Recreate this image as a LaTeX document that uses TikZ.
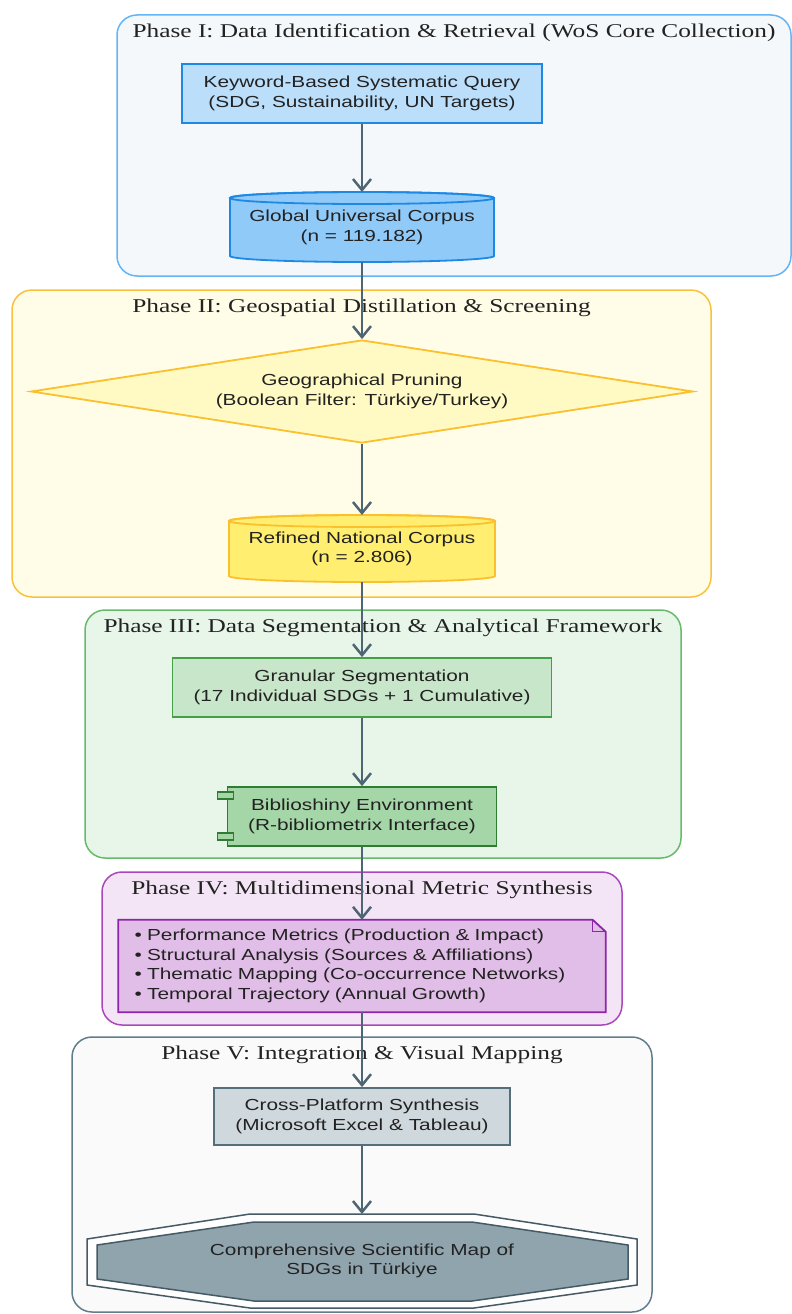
\documentclass[tikz,border=0pt]{standalone}
\usepackage{fontspec}
\setmainfont{Liberation Serif}[FakeStretch=1.3]
\setsansfont{Liberation Sans}[FakeStretch=1.3]
\usetikzlibrary{arrows.meta,shapes.geometric}
\definecolor{txtc}{HTML}{222222}
\definecolor{arr}{HTML}{4E6574}
\definecolor{pIf}{HTML}{F5F8FB}\definecolor{pId}{HTML}{64B5F6}
\definecolor{kwf}{HTML}{BBDEFB}\definecolor{kwd}{HTML}{1E88E5}
\definecolor{cIf}{HTML}{90CAF9}\definecolor{cId}{HTML}{1E88E5}
\definecolor{pIIf}{HTML}{FFFDE7}\definecolor{pIId}{HTML}{F9C23C}
\definecolor{diaf}{HTML}{FFF9C4}\definecolor{diad}{HTML}{FBC02D}
\definecolor{cIIf}{HTML}{FFEE70}\definecolor{cIId}{HTML}{FBC02D}
\definecolor{pIIIf}{HTML}{E8F5E9}\definecolor{pIIId}{HTML}{66BB6A}
\definecolor{grf}{HTML}{C8E6C9}\definecolor{grd}{HTML}{43A047}
\definecolor{bibf}{HTML}{A5D6A7}\definecolor{bibd}{HTML}{2E7D32}
\definecolor{pIVf}{HTML}{F3E5F5}\definecolor{pIVd}{HTML}{AB47BC}
\definecolor{notef}{HTML}{E1BEE7}\definecolor{noted}{HTML}{8E24AA}
\definecolor{pVf}{HTML}{FAFAFA}\definecolor{pVd}{HTML}{607D8B}
\definecolor{crf}{HTML}{CFD8DC}\definecolor{crd}{HTML}{546E7A}
\definecolor{hexf}{HTML}{90A4AE}\definecolor{hexd}{HTML}{455A64}
\pgfdeclarelayer{phaselayer}\pgfdeclarelayer{shapelayer}\pgfdeclarelayer{arrowlayer}
\pgfsetlayers{phaselayer,shapelayer,main,arrowlayer}
\tikzset{
  txt/.style={font=\sffamily\fontsize{16}{19.5}\selectfont, align=center, text=txtc, inner sep=0pt},
  ttl/.style={font=\fontsize{19.5}{22}\selectfont, text=txtc, inner sep=0pt},
  phasebox/.style={rounded corners=20pt, line width=1.5pt},
  flow/.style={draw=arr, line width=2.5pt, -{Straight Barb[length=11pt,width=18pt]}},
  boxn/.style={txt, rectangle, draw, line width=1.8pt},
  shp/.style={line width=1.8pt},
}
\newcommand\mycyl[7]{%
  \pgfmathsetmacro\cx{(#1+#2)/2}\pgfmathsetmacro\rx{(#2-#1)/2}%
  \filldraw[shp,fill=#6,draw=#7] (#1,#3+#5) -- (#1,#4-#5) arc[start angle=180,end angle=0,x radius=\rx,y radius=#5] -- (#2,#3+#5) arc[start angle=0,end angle=-180,x radius=\rx,y radius=#5] -- cycle;
  \draw[shp,draw=#7] (\cx,#3+#5) ellipse[x radius=\rx,y radius=#5];
}
\newcommand\myphase[8]{%
  \begin{pgfonlayer}{phaselayer}
    \filldraw[phasebox,fill=#6,draw=#7] (#2,#3) rectangle (#4,#5);
  \end{pgfonlayer}
  \node[ttl] (#1) at ({(#2+#4)/2},#3+17.5) {#8};
}
\begin{document}
\begin{tikzpicture}[x=1pt,y=-1pt]
\path[use as bounding box] (0,0) rectangle (792,1314);
% phases
\myphase{tI}{117}{15}{791}{276}{pIf}{pId}{Phase I: Data Identification \& Retrieval (WoS Core Collection)}
\myphase{tII}{12}{290}{711}{597}{pIIf}{pIId}{Phase II: Geospatial Distillation \& Screening}
\myphase{tIII}{85}{610}{681}{858}{pIIIf}{pIIId}{Phase III: Data Segmentation \& Analytical Framework}
\myphase{tIV}{102}{872}{622}{1025}{pIVf}{pIVd}{Phase IV: Multidimensional Metric Synthesis}
\myphase{tV}{72}{1037}{652}{1312}{pVf}{pVd}{Phase V: Integration \& Visual Mapping}
% phase I
\node[boxn, fill=kwf, draw=kwd, minimum width=360pt, minimum height=59pt] (kw) at (362,93.5) {Keyword-Based Systematic Query\\(SDG, Sustainability, UN Targets)};
\begin{pgfonlayer}{shapelayer}\mycyl{230}{494}{192}{262}{6}{cIf}{cId}\end{pgfonlayer}
\node[txt, minimum width=264pt, minimum height=70pt] (cI) at (362,227.5) {Global Universal Corpus\\(n = 119.182)};
% phase II
\node[txt, diamond, aspect=6.4, draw=diad, fill=diaf, line width=1.8pt, minimum width=662pt, minimum height=103pt] (dia) at (362,391.5) {Geographical Pruning\\(Boolean Filter: Türkiye/Turkey)};
\begin{pgfonlayer}{shapelayer}\mycyl{229}{495}{515}{582}{6}{cIIf}{cIId}\end{pgfonlayer}
\node[txt, minimum width=266pt, minimum height=67pt] (cII) at (362,549) {Refined National Corpus\\(n = 2.806)};
% phase III
\node[boxn, fill=grf, draw=grd, minimum width=379pt, minimum height=59pt] (gr) at (362,687.5) {Granular Segmentation\\(17 Individual SDGs + 1 Cumulative)};
\node[boxn, fill=bibf, draw=bibd, minimum width=269pt, minimum height=59pt] (bib) at (362,816.5) {Biblioshiny Environment\\(R-bibliometrix Interface)};
\filldraw[shp, line width=1.5pt, fill=bibf, draw=bibd] ([xshift=-9pt,yshift=-6pt]bib.north west) rectangle ([xshift=7pt,yshift=-13pt]bib.north west);
\filldraw[shp, line width=1.5pt, fill=bibf, draw=bibd] ([xshift=-9pt,yshift=7pt]bib.south west) rectangle ([xshift=7pt,yshift=14pt]bib.south west);
% phase IV
\node[txt, align=left, text width=455pt, minimum width=487pt, minimum height=92pt] (note) at (362,966) {• Performance Metrics (Production \& Impact)\\• Structural Analysis (Sources \& Affiliations)\\• Thematic Mapping (Co-occurrence Networks)\\• Temporal Trajectory (Annual Growth)};
\begin{pgfonlayer}{shapelayer}
  \filldraw[shp, fill=notef, draw=noted] (note.north west) -- ([xshift=-13pt]note.north east) -- ([yshift=-12pt]note.north east) -- (note.south east) -- (note.south west) -- cycle;
  \draw[shp, line width=1.3pt, draw=noted] ([xshift=-13pt]note.north east) -- ([xshift=-13pt,yshift=-12pt]note.north east) -- ([yshift=-12pt]note.north east);
\end{pgfonlayer}
% phase V
\node[boxn, fill=crf, draw=crd, minimum width=296pt, minimum height=57pt] (cr) at (362,1116.5) {Cross-Platform Synthesis\\(Microsoft Excel \& Tableau)};
\begin{pgfonlayer}{shapelayer}
  \filldraw[fill=white, draw=hexd, line width=1.5pt] (250,1214) -- (474,1214) -- (637,1239) -- (637,1285) -- (474,1308) -- (250,1308) -- (87,1285) -- (87,1239) -- cycle;
  \filldraw[fill=hexf, draw=hexd, line width=1.5pt] (254,1222) -- (472,1222) -- (628,1245) -- (628,1279) -- (472,1301) -- (254,1301) -- (97,1279) -- (97,1245) -- cycle;
\end{pgfonlayer}
\node[txt, minimum width=550pt, minimum height=94pt] (fin) at (362,1261) {Comprehensive Scientific Map of\\SDGs in Türkiye};
\coordinate (finTop) at (362,1214);
\coordinate (cITop) at (362,192);
\coordinate (cIBot) at (362,262);
\coordinate (cIITop) at (362,515);
\coordinate (cIIBot) at (362,582);
% connectors
\begin{pgfonlayer}{arrowlayer}
\draw[flow] (kw.south) -- (cITop);
\draw[flow] (cIBot) -- (dia.north);
\draw[flow] (dia.south) -- (cIITop);
\draw[flow] (cIIBot) -- (gr.north);
\draw[flow] (gr.south) -- (bib.north);
\draw[flow] (bib.south) -- (note.north);
\draw[flow] (note.south) -- (cr.north);
\draw[flow] (cr.south) -- (finTop);
\end{pgfonlayer}
\end{tikzpicture}
\end{document}
